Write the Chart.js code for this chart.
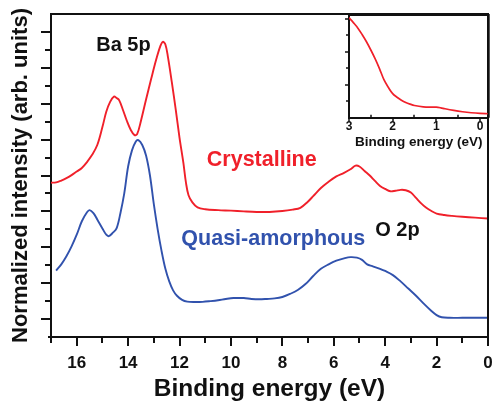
<!DOCTYPE html>
<html><head><meta charset="utf-8">
<script src="https://cdn.jsdelivr.net/npm/chart.js@4.4.1/dist/chart.umd.min.js"></script>
<style>
html,body{margin:0;padding:0;background:#fff;}
#wrap{position:relative;width:492px;height:403px;overflow:hidden;}
#main{position:absolute;left:0;top:0;}
#inset{position:absolute;left:320px;top:0;}
</style></head><body>
<div id="wrap"><canvas id="main" width="492" height="403"></canvas><canvas id="inset" width="172" height="152"></canvas></div>
<script>
// ---- data (binding energy in eV, normalized intensity in arb. units) ----
const crysE = [17.0,16.8,16.6,16.4,16.2,16.0,15.8,15.6,15.4,15.2,15.0,14.85,14.7,14.55,14.45,14.35,14.2,14.05,13.9,13.75,13.65,13.5,13.3,13.1,12.9,12.75,12.65,12.55,12.45,12.3,12.15,12.0,11.85,11.75,11.65,11.5,11.3,11.0,10.5,10.0,9.5,9.0,8.5,8.0,7.6,7.3,7.0,6.8,6.5,6.2,5.9,5.6,5.35,5.15,5.0,4.8,4.6,4.4,4.2,4.0,3.8,3.6,3.4,3.2,3.0,2.8,2.6,2.4,2.2,2.0,1.7,1.4,1.0,0.5,0.0];
const crysI = [8.6,8.62,8.72,8.85,9.02,9.22,9.42,9.75,10.15,10.7,11.7,12.55,13.1,13.4,13.32,13.2,12.65,12.05,11.55,11.25,11.3,12.05,13.25,14.4,15.5,16.2,16.45,16.3,15.6,14.2,12.7,11.1,9.7,8.6,7.9,7.5,7.22,7.12,7.07,7.04,7.0,6.97,6.97,7.02,7.1,7.2,7.55,7.85,8.3,8.65,8.95,9.15,9.35,9.55,9.5,9.25,9.0,8.7,8.42,8.25,8.12,8.15,8.2,8.18,8.05,7.75,7.45,7.2,7.02,6.88,6.8,6.75,6.7,6.65,6.6];
const amorE = [16.8,16.6,16.4,16.2,16.0,15.8,15.6,15.5,15.35,15.2,15.0,14.85,14.75,14.6,14.45,14.3,14.15,14.0,13.85,13.7,13.6,13.45,13.3,13.15,13.0,12.85,12.7,12.55,12.4,12.25,12.1,11.9,11.7,11.4,11.1,10.8,10.5,10.2,9.9,9.5,9.2,8.9,8.6,8.3,8.0,7.7,7.4,7.1,6.8,6.5,6.2,5.9,5.6,5.35,5.1,4.9,4.7,4.5,4.2,4.0,3.7,3.4,3.1,2.8,2.5,2.2,2.0,1.8,1.5,1.0,0.5,0.0];
const amorI = [3.7,4.05,4.5,5.05,5.7,6.45,6.95,7.07,6.9,6.55,6.05,5.7,5.62,5.8,6.05,6.9,8.0,9.5,10.4,10.9,10.97,10.7,10.1,9.0,7.4,6.0,4.8,3.8,3.1,2.6,2.3,2.07,1.97,1.95,1.96,2.0,2.05,2.12,2.17,2.17,2.12,2.1,2.12,2.15,2.23,2.4,2.62,2.95,3.4,3.8,4.05,4.25,4.38,4.45,4.42,4.3,4.05,3.95,3.8,3.68,3.45,3.1,2.7,2.3,1.86,1.45,1.22,1.1,1.07,1.07,1.07,1.07];
const insetE = [3.0,2.9,2.8,2.7,2.6,2.5,2.4,2.3,2.2,2.1,2.0,1.9,1.8,1.7,1.6,1.5,1.3,1.1,1.0,0.9,0.8,0.6,0.4,0.2,0.0,-0.2];
const insetI = [3.03,2.88,2.72,2.52,2.3,2.05,1.78,1.48,1.15,0.92,0.73,0.62,0.53,0.46,0.41,0.37,0.33,0.32,0.32,0.3,0.27,0.22,0.18,0.15,0.13,0.12];
// tick values
const xLabelVals = [0,2,4,6,8,10,12,14,16];
const xTickMarks = [0,1,2,3,4,5,6,7,8,9,10,11,12,13,14,15,16,17];
const yTickMarks = [1,2,3,4,5,6,7,8,9,10,11,12,13,14,15,16,17];
const insetXLabelVals = [0,1,2,3];
const insetXMinor = [0.5,1.5,2.5];
const insetYTickMarks = [0.5,1,1.5,2,2.5,3];
// text annotations: [text, energy (left edge), intensity (vertical centre), colour]
const annotations = [
  ['Ba 5p', 15.24, 16.24, 'black'],
  ['Crystalline', 10.94, 9.85, 'red'],
  ['Quasi-amorphous', 11.93, 5.48, 'blue'],
  ['O 2p', 4.39, 5.95, 'black']
];

const FONT = "'Liberation Sans', Arial, Helvetica, sans-serif";
const RED = '#f0202a', BLUE = '#3152ad', INK = '#111111';
const colorMap = {red: RED, blue: BLUE, black: INK};

function pts(xs, ys){ return xs.map((x,i)=>({x:x, y:ys[i]})); }

const mainDeco = {
  id:'mainDeco',
  afterDraw(chart){
    const {ctx, chartArea:a, scales:{x,y}} = chart;
    ctx.save();
    ctx.strokeStyle = INK; ctx.lineWidth = 2; ctx.lineCap = 'butt';
    ctx.beginPath();
    ctx.moveTo(a.left-1, a.top); ctx.lineTo(a.right+1, a.top);
    ctx.moveTo(a.right, a.top); ctx.lineTo(a.right, a.bottom+1);
    ctx.moveTo(a.left, a.bottom); ctx.lineTo(a.left, a.bottom+4);
    ctx.moveTo(a.left, a.bottom); ctx.lineTo(a.left-3, a.bottom);
    yTickMarks.forEach(v=>{
      const py = Math.round(y.getPixelForValue(v));
      const len = (v % 2 === 1) ? 10 : 6;
      ctx.moveTo(a.left-len, py); ctx.lineTo(a.left, py);
    });
    xTickMarks.forEach(v=>{
      const px = Math.round(x.getPixelForValue(v));
      const len = (v % 2 === 0) ? 9 : 6;
      ctx.moveTo(px, a.bottom); ctx.lineTo(px, a.bottom+len);
    });
    ctx.stroke();
    ctx.textBaseline = 'middle'; ctx.textAlign = 'left';
    annotations.forEach(([t,e,v,c])=>{
      const big = (c !== 'black');
      ctx.font = 'bold ' + (big ? 21.5 : 20) + 'px ' + FONT;
      ctx.fillStyle = colorMap[c];
      ctx.fillText(t, x.getPixelForValue(e), y.getPixelForValue(v));
    });
    ctx.restore();
  }
};

new Chart(document.getElementById('main'), {
  type:'line',
  data:{datasets:[
    {label:'Crystalline', data:pts(crysE,crysI), borderColor:RED, borderWidth:1.9, pointRadius:0, tension:0.35, fill:false},
    {label:'Quasi-amorphous', data:pts(amorE,amorI), borderColor:BLUE, borderWidth:1.9, pointRadius:0, tension:0.35, fill:false}
  ]},
  options:{
    responsive:false, animation:false, events:[],
    layout:{padding:{top:14,right:4,left:0,bottom:0}},
    plugins:{legend:{display:false}, tooltip:{enabled:false}},
    scales:{
      x:{type:'linear', min:0, max:17, reverse:true,
        afterBuildTicks:s=>{ s.ticks = xLabelVals.map(v=>({value:v})); },
        ticks:{autoSkip:false, maxRotation:0, minRotation:0, padding:16, color:INK,
          font:{family:FONT, size:17, weight:'bold'}, callback:v=>String(v)},
        grid:{display:false, drawTicks:false},
        border:{display:true, color:INK, width:2},
        title:{display:true, text:'Binding energy (eV)', color:INK,
          font:{family:FONT, size:24.5, weight:'bold'}, padding:{top:0,bottom:-0.5}},
        afterFit:s=>{ s.height = 66; s.paddingLeft = 0; s.paddingRight = 0; }
      },
      y:{type:'linear', min:0, max:18,
        ticks:{display:false},
        grid:{display:false, drawTicks:false},
        border:{display:true, color:INK, width:2},
        title:{display:true, text:'Normalized intensity (arb. units)', color:INK,
          font:{family:FONT, size:22, weight:'bold'}, padding:{top:7.5,bottom:0}},
        afterFit:s=>{ s.width = 51; s.paddingTop = 0; s.paddingBottom = 0; }
      }
    }
  },
  plugins:[mainDeco]
});

const insetDeco = {
  id:'insetDeco',
  afterDraw(chart){
    const {ctx, chartArea:a, scales:{x,y}} = chart;
    ctx.save();
    ctx.strokeStyle = INK; ctx.lineWidth = 2;
    ctx.beginPath();
    ctx.moveTo(a.left-1, a.top); ctx.lineTo(a.right+1, a.top);
    ctx.moveTo(a.right, a.top); ctx.lineTo(a.right, a.bottom);
    ctx.stroke();
    ctx.lineWidth = 1.5;
    ctx.beginPath();
    insetYTickMarks.forEach(v=>{
      const py = Math.round(y.getPixelForValue(v));
      const len = Number.isInteger(v) ? 4 : 3;
      ctx.moveTo(a.left-len, py); ctx.lineTo(a.left, py);
    });
    insetXLabelVals.forEach(v=>{
      const px = Math.round(x.getPixelForValue(v));
      ctx.moveTo(px, a.bottom); ctx.lineTo(px, a.bottom+4);
    });
    insetXMinor.forEach(v=>{
      const px = Math.round(x.getPixelForValue(v));
      ctx.moveTo(px, a.bottom); ctx.lineTo(px, a.bottom-3);
    });
    ctx.stroke();
    ctx.restore();
  }
};

new Chart(document.getElementById('inset'), {
  type:'line',
  data:{datasets:[
    {label:'Crystalline (VBM)', data:pts(insetE,insetI), borderColor:RED, borderWidth:1.7, pointRadius:0, tension:0.35, fill:false}
  ]},
  options:{
    responsive:false, animation:false, events:[],
    layout:{padding:{top:15,right:3.3,left:0,bottom:0}},
    plugins:{legend:{display:false}, tooltip:{enabled:false}},
    scales:{
      x:{type:'linear', min:-0.2, max:3, reverse:true,
        afterBuildTicks:s=>{ s.ticks = insetXLabelVals.map(v=>({value:v})); },
        ticks:{autoSkip:false, maxRotation:0, minRotation:0, padding:1.5, color:INK,
          font:{family:FONT, size:12, weight:'bold'}, callback:v=>String(v)},
        grid:{display:false, drawTicks:false},
        border:{display:true, color:INK, width:2},
        title:{display:true, text:'Binding energy (eV)', color:INK,
          font:{family:FONT, size:13.5, weight:'bold'}, padding:{top:0,bottom:1.5}},
        afterFit:s=>{ s.height = 34.3; s.paddingLeft = 0; s.paddingRight = 0; }
      },
      y:{type:'linear', min:0, max:3.11,
        ticks:{display:false},
        grid:{display:false, drawTicks:false},
        border:{display:true, color:INK, width:2},
        afterFit:s=>{ s.width = 29; s.paddingTop = 0; s.paddingBottom = 0; }
      }
    }
  },
  plugins:[insetDeco]
});
</script>
</body></html>
